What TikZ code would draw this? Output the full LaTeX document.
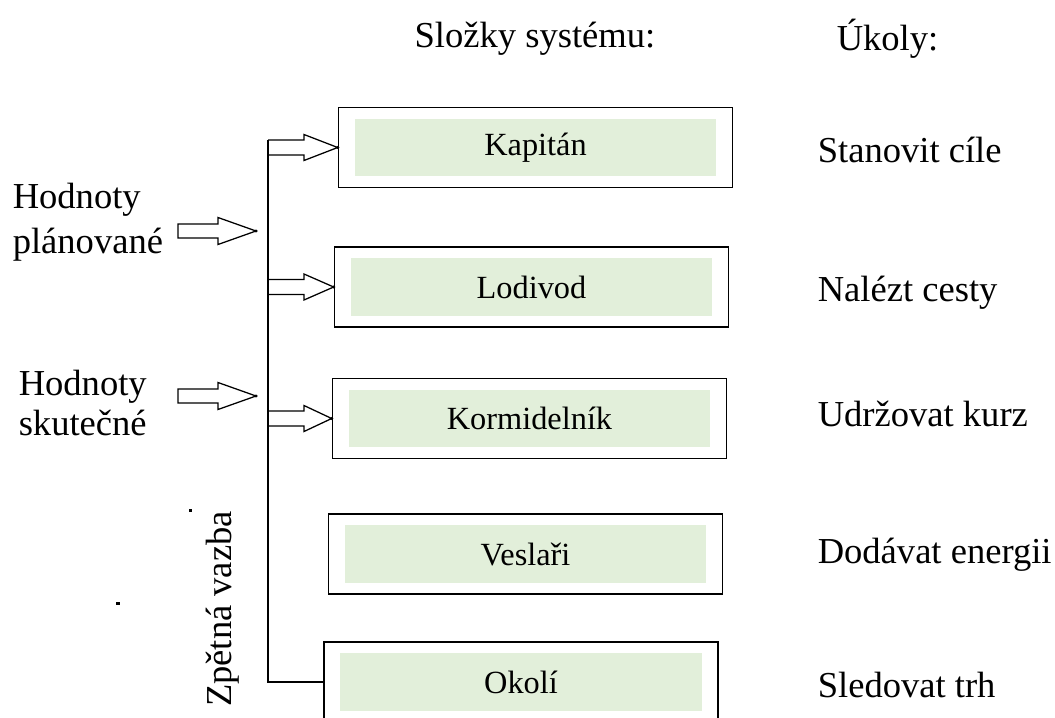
\documentclass[tikz,border=0pt]{standalone}
\usepackage{fontspec}
\setmainfont{Liberation Serif}
\usetikzlibrary{calc}
\definecolor{cgreen}{HTML}{E2EFDA}
\tikzset{
  every picture/.style={line width=1.1pt},
  outer/.style={draw, minimum width=9.85cm, minimum height=2cm, inner sep=0pt},
  inner/.style={fill=cgreen, minimum width=9.03cm, minimum height=1.43cm, inner sep=0pt, font=\fontsize{23}{27}\selectfont},
  big/.style={inner sep=0pt, font=\fontsize{26}{31}\selectfont},
  task/.style={big, anchor=west},
  barrow/.style={line width=0.9pt, line join=miter},
}

\begin{document}
\begin{tikzpicture}[x=0.025cm, y=-0.025cm]
  \useasboundingbox (0,0) rectangle (1055,718);
  % headings
  \node[big] (hsys) at (535,39) {Složky systému:};
  \node[task] (hukol) at (836,39) {Úkoly:};
  % system components
  \foreach \n/\x/\y/\t in {kap/535.5/147.5/Kapitán, lod/531.5/287/Lodivod, kor/529.5/418.5/Kormidelník, ves/525.5/554/Veslaři, oko/521/682/Okolí} {
    \node[outer] (\n) at (\x,\y) {};
    \node[inner] (\n in) at (\n) {\t};
  }
  % tasks
  \foreach \t/\y [count=\i] in {Stanovit cíle/150, Nalézt cesty/293, Udržovat kurz/414, Dodávat energii/555, Sledovat trh/685}
    \node[task] (t\i) at (817,\y) {\t};
  % inputs
  \node[big, anchor=west, align=left, font=\fontsize{26}{32}\selectfont] (plan) at (12,222) {Hodnoty\\plánované};
  \node[big, anchor=west, align=left, font=\fontsize{26}{29}\selectfont] (skut) at (18,403) {Hodnoty\\skutečné};
  \node[big, rotate=90] (zpet) at (223,609) {Zpětná vazba};
  \coordinate (pin1) at (256,231);
  \coordinate (pin2) at (256,396);
  \coordinate (trunk) at (268,0);
  \foreach \c in {pin1, pin2} {
    \draw[barrow] ($(\c)+(-78,-7)$) -- ($(\c)+(-38,-7)$) -- ($(\c)+(-38,-13.5)$) -- (\c)
      -- ($(\c)+(-38,13.5)$) -- ($(\c)+(-38,7)$) -- ($(\c)+(-78,7)$) -- cycle;
    \fill (\c) circle (1.6);
  }
  % feedback line and branches
  \draw ($(kap.west -| trunk)+(0,-7.5)$) -- (oko.west -| trunk) -- (oko.west);
  \foreach \b in {kap, lod, kor} {
    \draw[barrow] ($(\b.west -| trunk)+(0,-7.5)$) -- ($(\b.west -| trunk)+(36,-7.5)$) -- ($(\b.west -| trunk)+(36,-13)$) -- (\b.west)
      -- ($(\b.west -| trunk)+(36,13)$) -- ($(\b.west -| trunk)+(36,7.5)$) -- ($(\b.west -| trunk)+(0,7.5)$);
    \fill (\b.west) circle (1.6);
  }
  % specks
  \fill (115.5,601.5) rectangle ++(4,3);
  \fill (188.5,508.5) rectangle ++(3,3);
\end{tikzpicture}
\end{document}
